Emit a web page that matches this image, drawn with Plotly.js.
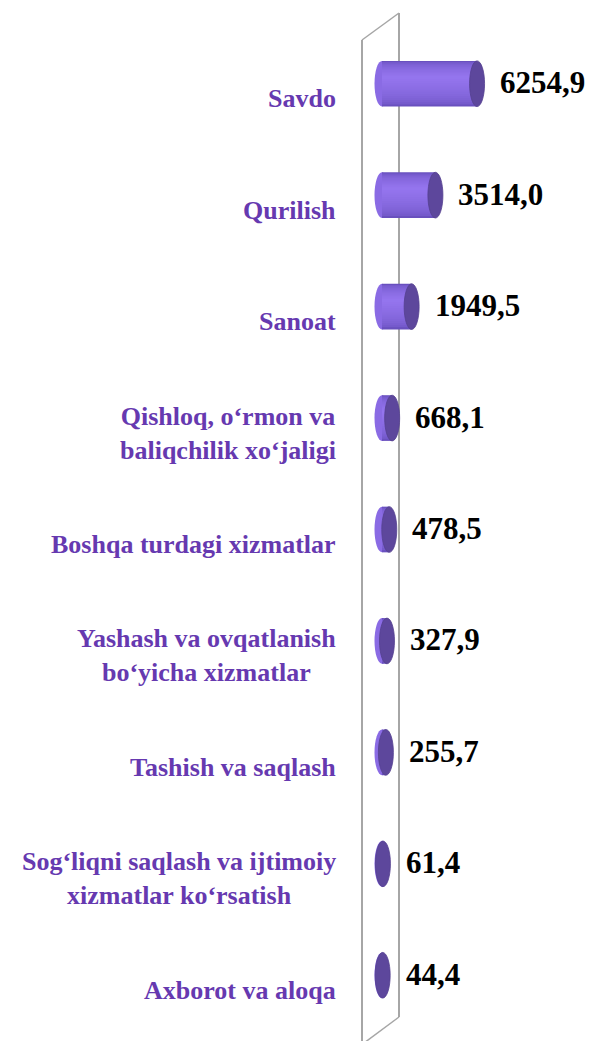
<!DOCTYPE html>
<html>
<head>
<meta charset="utf-8">
<script src="https://cdn.plot.ly/plotly-3.0.1.min.js"></script>
<style>html,body{margin:0;padding:0;background:#fff;}#chart{width:591px;height:1041px;}</style>
</head>
<body>
<div id="chart"></div>
<script>
const categories = [
  "Savdo",
  "Qurilish",
  "Sanoat",
  "Qishloq, o‘rmon va<br>baliqchilik xo‘jaligi",
  "Boshqa turdagi xizmatlar",
  "Yashash va ovqatlanish<br>bo‘yicha xizmatlar",
  "Tashish va saqlash",
  "Sog‘liqni saqlash va ijtimoiy<br>xizmatlar ko‘rsatish",
  "Axborot va aloqa"
];
const values = [6254.9, 3514.0, 1949.5, 668.1, 478.5, 327.9, 255.7, 61.4, 44.4];
const valueLabels = ["6254,9", "3514,0", "1949,5", "668,1", "478,5", "327,9", "255,7", "61,4", "44,4"];

const W = 591, H = 1041;
const mT = 28, mB = 10;
const plotH = H - mT - mB;
const pxPerUnit = 0.0152;
const zeroPx = 382;
const xRange = [-zeroPx / pxPerUnit, (W - zeroPx) / pxPerUnit];
const pos = categories.map((c, i) => i);
const barW = 0.41;

// smooth vertical gradient for the cylinder body: stacked overlay bands
function lerp(a, b, t) { return Math.round(a + (b - a) * t); }
function mix(c1, c2, t) {
  return "rgb(" + lerp(c1[0], c2[0], t) + "," + lerp(c1[1], c2[1], t) + "," + lerp(c1[2], c2[2], t) + ")";
}
const edgeTop = [112, 84, 200], light = [150, 118, 240], edgeBot = [98, 76, 180];
const highlight = -0.06; // position of lightest stripe relative to centre
const nBands = 14;
const traces = [];
for (let k = 0; k < nBands; k++) {
  const t = k / nBands;
  const top = -barW / 2 + (highlight + barW / 2) * t;
  const bot = barW / 2 - (barW / 2 - highlight) * t;
  const col = mix(edgeTop.map((v, j) => (v + edgeBot[j]) / 2), light, Math.sqrt(t));
  traces.push({
    type: "bar", orientation: "h",
    x: values, y: pos,
    width: bot - top, offset: top,
    marker: {color: col, line: {width: 0}},
    hoverinfo: "skip", showlegend: false
  });
}

const py = p => (H - mB - p) / plotH; // pixel y -> paper y
const px = p => p / W;
const wallColor = "#a6a6a6";
const shapes = [
  {type: "line", xref: "paper", yref: "paper", x0: px(362), y0: py(40), x1: px(362), y1: py(1045), line: {color: wallColor, width: 2}, layer: "below"},
  {type: "line", xref: "paper", yref: "paper", x0: px(362), y0: py(40), x1: px(399), y1: py(13), line: {color: wallColor, width: 1.5}, layer: "below"},
  {type: "line", xref: "paper", yref: "paper", x0: px(399), y0: py(13), x1: px(399), y1: py(1017), line: {color: wallColor, width: 2}, layer: "below"},
  {type: "line", xref: "paper", yref: "paper", x0: px(399), y0: py(1017), x1: px(364), y1: py(1043), line: {color: wallColor, width: 1.5}, layer: "below"}
];
// left rounded ends (behind body)
values.forEach((v, i) => {
  shapes.push({type: "circle", xref: "x", yref: "y", xsizemode: "pixel", xanchor: 0,
    x0: -7.5, x1: 7.5, y0: i - barW / 2, y1: i + barW / 2,
    fillcolor: "#8a6be4", line: {width: 0}, layer: "below"});
});
// right end caps (in front)
values.forEach((v, i) => {
  shapes.push({type: "circle", xref: "x", yref: "y", xsizemode: "pixel", xanchor: v,
    x0: -7.5, x1: 7.5, y0: i - barW / 2, y1: i + barW / 2,
    fillcolor: "#5d479c", line: {color: "#54408f", width: 0.8}, layer: "above"});
});

const labelFont = {family: "Liberation Serif", size: 26, color: "#6639B0"};
const valueFont = {family: "Liberation Serif", size: 31, color: "#000000"};
const annotations = [];
categories.forEach((c, i) => {
  annotations.push({xref: "paper", yref: "y", x: px(338), y: i, yshift: -15,
    xanchor: "right", yanchor: "middle", align: "center", text: "<b>" + c + "</b>",
    showarrow: false, font: labelFont});
});
values.forEach((v, i) => {
  annotations.push({xref: "x", yref: "y", x: v, y: i, xshift: 21, yshift: 1,
    xanchor: "left", yanchor: "middle", text: "<b>" + valueLabels[i] + "</b>",
    showarrow: false, font: valueFont});
});

const layout = {
  width: W, height: H,
  margin: {l: 0, r: 0, t: mT, b: mB, pad: 0},
  paper_bgcolor: "#ffffff", plot_bgcolor: "rgba(0,0,0,0)",
  barmode: "overlay", showlegend: false,
  xaxis: {range: xRange, visible: false, fixedrange: true},
  yaxis: {range: [categories.length - 0.5, -0.5], visible: false, fixedrange: true},
  shapes: shapes, annotations: annotations, hovermode: false
};
Plotly.newPlot("chart", traces, layout, {staticPlot: true, displayModeBar: false});
</script>
</body>
</html>
